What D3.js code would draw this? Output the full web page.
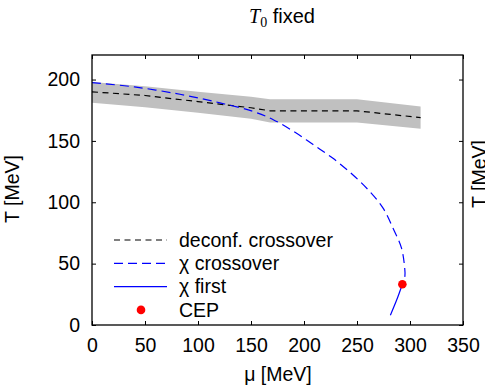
<!DOCTYPE html>
<html><head><meta charset="utf-8">
<script src="https://cdn.jsdelivr.net/npm/d3@7"></script>
<style>body{margin:0;background:#fff}svg{display:block}text{font-family:"Liberation Sans",Arial,sans-serif}</style>
</head><body>
<svg id="c" width="485" height="386"></svg>
<script>
// band (deconfinement crossover uncertainty)
const bandMu   = [0, 50, 100, 150, 168, 250, 310];
const bandLow  = [181, 177.5, 173, 168, 165, 165, 160];
const bandHigh = [198, 194.5, 190, 186, 184, 184, 178];
// deconfinement crossover (black dashed)
const deconfMu = [0, 50, 100, 150, 168, 250, 310];
const deconfT  = [190, 187, 182, 177, 174.5, 174.5, 169];
// chiral crossover (blue dashed)
const chiCrossMu = [0, 40, 83, 120.7, 152, 171, 190, 208.6, 227, 246, 262, 274.6, 284, 292, 295, 295.2, 292.8];
const chiCrossT  = [197.5, 194, 188, 181, 174, 167.3, 157.8, 147, 136, 122.4, 108.8, 95.2, 78.9, 62.6, 46.3, 40, 33.2];
// chiral first order (blue solid)
const chiFirstMu = [292.8, 287.5, 281.5];
const chiFirstT  = [33.2, 20.5, 8];
// critical end point
const cepMu = [292.8];
const cepT  = [33.2];
const xTicks = [0, 50, 100, 150, 200, 250, 300, 350];
const yTicks = [0, 50, 100, 150, 200];
const legendLabels = ["deconf. crossover", "\u03c7 crossover", "\u03c7 first", "CEP"];

const svg = d3.select("#c");
const L = 92, R = 463, T = 55, B = 325;
const x = d3.scaleLinear().domain([0, 350]).range([L, R]);
const y = d3.scaleLinear().domain([0, 220]).range([B, T]);

// band
const band = bandMu.map((m, i) => ({m, lo: bandLow[i], hi: bandHigh[i]}));
svg.append("path").datum(band)
  .attr("d", d3.area().x(d => x(d.m)).y0(d => y(d.lo)).y1(d => y(d.hi)))
  .attr("fill", "#c0c0c0");

const line = d3.line().x(d => x(d[0])).y(d => y(d[1]));
svg.append("path").datum(deconfMu.map((m, i) => [m, deconfT[i]]))
  .attr("d", line).attr("fill", "none").attr("stroke", "#000").attr("stroke-width", 1.2)
  .attr("stroke-dasharray", "6,4.5");
svg.append("path").datum(chiCrossMu.map((m, i) => [m, chiCrossT[i]]))
  .attr("d", d3.line().x(d => x(d[0])).y(d => y(d[1])).curve(d3.curveCatmullRom)).attr("fill", "none").attr("stroke", "#0000ff").attr("stroke-width", 1.2)
  .attr("stroke-dasharray", "9,5");
svg.append("path").datum(chiFirstMu.map((m, i) => [m, chiFirstT[i]]))
  .attr("d", d3.line().x(d => x(d[0])).y(d => y(d[1])).curve(d3.curveCatmullRom)).attr("fill", "none").attr("stroke", "#0000ff").attr("stroke-width", 1.2);
svg.selectAll("circle.cep").data(cepMu).enter().append("circle")
  .attr("cx", (d) => x(d)).attr("cy", (d, i) => y(cepT[i])).attr("r", 4.3).attr("fill", "#ff0000");

// axes (inward ticks, mirrored)
const fs = 19.5;
const ax = (g) => { g.select(".domain").remove(); g.selectAll("line").attr("stroke", "#000"); };
svg.append("g").attr("transform", `translate(0,${B})`)
  .call(d3.axisBottom(x).tickValues(xTicks).tickSizeInner(-4).tickSizeOuter(0).tickPadding(13))
  .call(ax).selectAll("text").attr("font-size", fs).attr("fill", "#000").attr("font-family", "Liberation Sans, Arial, sans-serif");
svg.append("g").attr("transform", `translate(0,${T})`)
  .call(d3.axisTop(x).tickValues(xTicks).tickSizeInner(-4).tickSizeOuter(0).tickFormat(""))
  .call(ax);
svg.append("g").attr("transform", `translate(${L},0)`)
  .call(d3.axisLeft(y).tickValues(yTicks).tickSizeInner(-4).tickSizeOuter(0).tickPadding(12))
  .call(ax).selectAll("text").attr("font-size", fs).attr("fill", "#000").attr("font-family", "Liberation Sans, Arial, sans-serif");
svg.append("g").attr("transform", `translate(${R},0)`)
  .call(d3.axisRight(y).tickValues(yTicks).tickSizeInner(-4).tickSizeOuter(0).tickFormat(""))
  .call(ax);
svg.append("rect").attr("x", L).attr("y", T).attr("width", R - L).attr("height", B - T)
  .attr("fill", "none").attr("stroke", "#000").attr("stroke-width", 1.3);

// legend
const lg = svg.append("g");
const ly0 = 240, ldy = 23.3;
legendLabels.forEach((t, i) => {
  const yy = ly0 + i * ldy;
  if (i === 0) lg.append("line").attr("x1", 114).attr("x2", 167).attr("y1", yy).attr("y2", yy).attr("stroke", "#000").attr("stroke-width", 1.2).attr("stroke-dasharray", "6,4.5");
  if (i === 1) lg.append("line").attr("x1", 114).attr("x2", 167).attr("y1", yy).attr("y2", yy).attr("stroke", "#0000ff").attr("stroke-width", 1.2).attr("stroke-dasharray", "9,5");
  if (i === 2) lg.append("line").attr("x1", 114).attr("x2", 167).attr("y1", yy).attr("y2", yy).attr("stroke", "#0000ff").attr("stroke-width", 1.2);
  if (i === 3) lg.append("circle").attr("cx", 141).attr("cy", yy).attr("r", 4.3).attr("fill", "#ff0000");
  lg.append("text").attr("x", 179).attr("y", yy).attr("dy", "0.35em").attr("font-size", fs).text(t);
});

// titles
const title = svg.append("text").attr("x", 282).attr("y", 23).attr("text-anchor", "middle").attr("font-size", 20);
title.append("tspan").attr("font-family", "Liberation Serif, Times New Roman, serif").attr("font-style", "italic").attr("font-size", 20).text("T");
title.append("tspan").attr("font-family", "Liberation Serif, Times New Roman, serif").attr("font-size", 14).attr("dy", 4).text("0");
title.append("tspan").attr("dy", -4).text(" fixed");
svg.append("text").attr("x", 278).attr("y", 381).attr("text-anchor", "middle").attr("font-size", fs).text("\u03bc [MeV]");
svg.append("text").attr("transform", "translate(19,189) rotate(-90)").attr("text-anchor", "middle").attr("font-size", fs).text("T [MeV]");
// neighbouring panel's y label (cut off at the edge, as in the reference)
svg.append("text").attr("transform", "translate(486,174) rotate(-90)").attr("text-anchor", "middle").attr("font-size", fs).text("T [MeV]");
</script>
</body></html>
